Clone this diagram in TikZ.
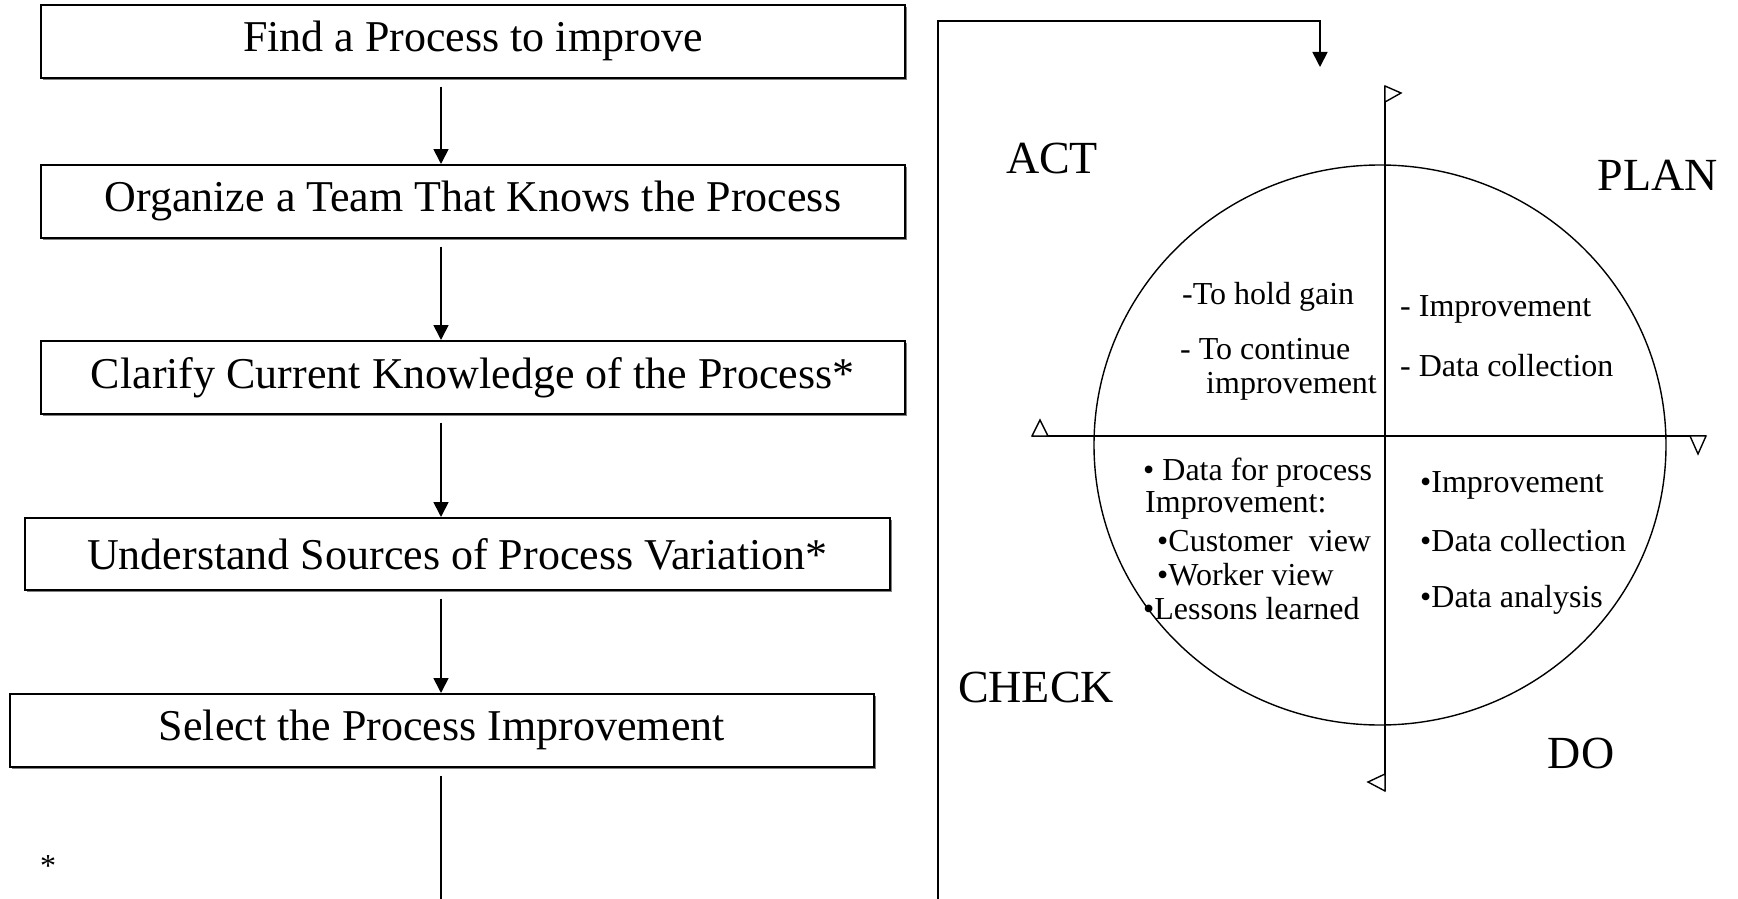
\documentclass[tikz,border=0pt]{standalone}
\usepackage{fontspec}
\setmainfont{Liberation Serif}
\usetikzlibrary{arrows.meta,shadows,calc}
\begin{document}
\begin{tikzpicture}[x=1pt,y=-1pt,
  stepbox/.style={draw,line width=1.7pt,fill=white,inner sep=0pt,anchor=north west,
    minimum height=73pt,font=\fontsize{44}{50}\selectfont,
    drop shadow={shadow xshift=2.5pt,shadow yshift=-2.5pt,fill=black!50,opacity=1}},
  arr/.style={line width=1.7pt,-{Triangle[width=15pt,length=15pt]}},
  plain/.style={line width=1.7pt},
  lbl/.style={font=\fontsize{46}{52}\selectfont,inner sep=0pt},
  itm/.style={font=\fontsize{32}{36}\selectfont,inner sep=0pt,anchor=west},
  tri/.style={line width=1.4pt,fill=white,line join=miter}
]
\useasboundingbox (0,0) rectangle (1738,899);
\fill[white] (0,0) rectangle (1738,899);

% flow boxes
\node[stepbox,minimum width=864pt] (b1) at (40,4) {Find a Process to improve};
\node[stepbox,minimum width=864pt] (b2) at (40,164) {Organize a Team That Knows the Process};
\node[stepbox,minimum width=864pt] (b3) at (40,340) {Clarify Current Knowledge of the Process*};
\node[stepbox,minimum width=865pt,minimum height=72pt] (b4) at (24,517) {Understand Sources of Process Variation*};
\node[stepbox,minimum width=864pt] (b5) at (9,693) {Select the Process Improvement};

\coordinate (ax) at (441,0);
\draw[arr] ($(b1.south -| ax)+(0,8)$) -- (b2.north -| ax);
\draw[arr] ($(b2.south -| ax)+(0,8)$) -- (b3.north -| ax);
\draw[arr] ($(b3.south -| ax)+(0,8)$) -- (b4.north -| ax);
\draw[arr] ($(b4.south -| ax)+(0,8)$) -- (b5.north -| ax);
\coordinate (bot) at (441,899);
\draw[plain] ($(b5.south -| ax)+(0,8)$) -- (bot);

\node[font=\fontsize{32}{36}\selectfont,inner sep=0pt] (star) at (48,866) {*};

% feedback connector
\coordinate (fb0) at (938,899);
\coordinate (fbc) at (1320,21);
\coordinate (fbtip) at (1320,67);
\draw[arr] (fb0) -- (fb0 |- fbc) -- (fbc) -- (fbtip);

% PDCA wheel
\coordinate (vt) at (1385,86);
\coordinate (vb) at (1385,791);
\coordinate (hl) at (1032,436);
\coordinate (hr) at (1706,436);
\draw[plain] (vt) -- (vb);
\draw[plain] (hl) -- (hr);
\draw[line width=1.4pt] (1380,445) ellipse [x radius=286pt, y radius=280pt];

\draw[tri] (vt) -- ++(16,7) -- ++(-16,9) -- cycle;
\draw[tri] (vb) -- ++(-17,-9) -- ++(17,-8) -- cycle;
\draw[tri] (hl) -- ++(8,-16) -- ++(8,16) -- cycle;
\draw[tri] (hr) -- ++(-8,18) -- ++(-8,-18) -- cycle;

\node[lbl] (act) at (1052,158) {ACT};
\node[lbl] (plan) at (1658,175) {PLAN};
\node[lbl] (check) at (1036,687) {CHECK};
\node[lbl] (do) at (1581,753) {DO};

\node[itm] (a1) at (1182,297) {-To hold gain};
\node[itm] (a2) at (1180,349) {- To continue};
\node[itm] (a3) at (1206,386) {improvement};
\node[itm] (p1) at (1400,309) {- Improvement};
\node[itm] (p2) at (1400,366) {- Data collection};
\node[itm] (c1) at (1143,473) {• Data for process};
\node[itm] (c2) at (1145,505) {Improvement:};
\node[itm] (c3) at (1157,541) {•Customer\ \ view};
\node[itm] (c4) at (1157,575) {•Worker view};
\node[itm] (c5) at (1143,609) {•Lessons learned};
\node[itm] (d1) at (1420,485) {•Improvement};
\node[itm] (d2) at (1420,541) {•Data collection};
\node[itm] (d3) at (1420,600) {•Data analysis};
\end{tikzpicture}
\end{document}
